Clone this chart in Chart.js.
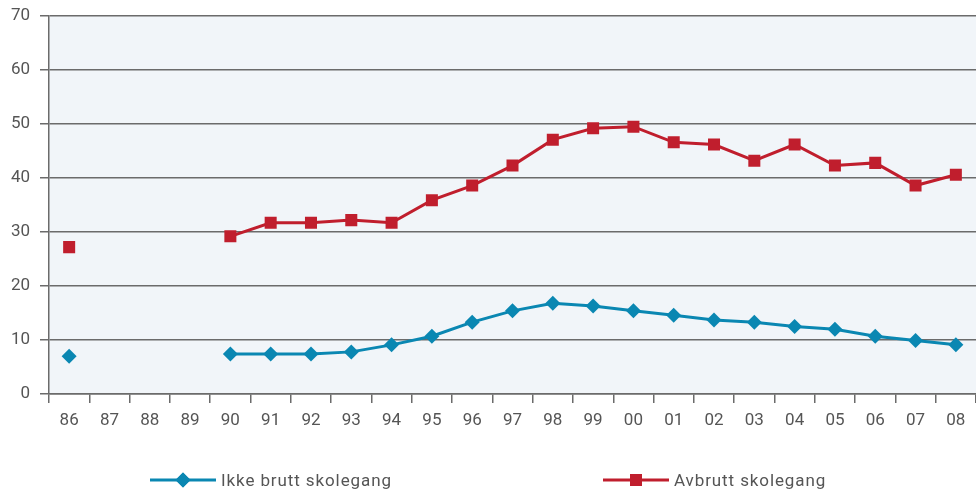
<!DOCTYPE html>
<html>
<head>
<meta charset="utf-8">
<script src="https://cdn.jsdelivr.net/npm/chart.js@4"></script>
<style>
  html, body { margin: 0; padding: 0; background: #ffffff; overflow: hidden; }
  #wrap { position: relative; width: 976px; height: 491px; overflow: hidden; }
  canvas { display: block; }
  .lg { position: absolute; top: 469px; height: 22px; display: flex; align-items: center;
        font-family: Roboto, "DejaVu Sans", sans-serif; font-size: 17px; color: #555; letter-spacing: 0.9px; }
  .lg canvas { margin-right: 5px; }
</style>
</head>
<body>
<div id="wrap">
  <canvas id="c" width="976" height="491"></canvas>
  <div class="lg" style="left:150px;"><canvas id="l1" width="66" height="22"></canvas><span>Ikke brutt skolegang</span></div>
  <div class="lg" style="left:603px;"><canvas id="l2" width="66" height="22"></canvas><span>Avbrutt skolegang</span></div>
</div>
<script>
const categories = ['86','87','88','89','90','91','92','93','94','95','96','97','98','99','00','01','02','03','04','05','06','07','08'];
const ikkeBrutt = [7.0, null, null, null, 7.4, 7.4, 7.4, 7.8, 9.1, 10.7, 13.3, 15.4, 16.8, 16.3, 15.4, 14.6, 13.7, 13.3, 12.5, 12.0, 10.7, 9.9, 9.1];
const avbrutt   = [27.2, null, null, null, 29.2, 31.7, 31.7, 32.2, 31.7, 35.9, 38.6, 42.3, 47.1, 49.2, 49.5, 46.6, 46.2, 43.2, 46.2, 42.3, 42.8, 38.6, 40.6];
const seriesNames = ['Ikke brutt skolegang', 'Avbrutt skolegang'];
const yTicks = [0, 10, 20, 30, 40, 50, 60, 70];

const BLUE = '#0a87b2';
const RED = '#c01e2d';
const GRID = '#6b6b6b';
const TXT = '#555555';
const FONT = 'Roboto, "DejaVu Sans", sans-serif';

const bgPlugin = {
  id: 'plotBg',
  beforeDraw(chart) {
    const a = chart.chartArea, ctx = chart.ctx;
    ctx.save();
    ctx.fillStyle = '#f1f5f9';
    ctx.fillRect(a.left, a.top, a.right - a.left, a.bottom - a.top);
    ctx.restore();
  }
};

new Chart(document.getElementById('c'), {
  type: 'line',
  data: {
    labels: categories,
    datasets: [
      { label: seriesNames[0], data: ikkeBrutt, borderColor: BLUE, backgroundColor: BLUE,
        borderWidth: 3, pointStyle: 'rectRot', pointRadius: 7.5, pointHoverRadius: 7.5,
        pointBorderWidth: 0, spanGaps: false, tension: 0 },
      { label: seriesNames[1], data: avbrutt, borderColor: RED, backgroundColor: RED,
        borderWidth: 3, pointStyle: 'rect', pointRadius: 8.5, pointHoverRadius: 8.5,
        pointBorderWidth: 0, spanGaps: false, tension: 0 }
    ]
  },
  options: {
    responsive: false,
    animation: false,
    layout: { autoPadding: false, padding: { top: 16, right: 0, bottom: 47, left: 0 } },
    plugins: { legend: { display: false }, tooltip: { enabled: false } },
    scales: {
      x: {
        offset: true,
        grid: { offset: true, drawOnChartArea: false, color: GRID, tickLength: 9, lineWidth: 1.5 },
        border: { display: true, color: GRID, width: 1.5 },
        ticks: { color: TXT, font: { family: FONT, size: 17 }, padding: 8, maxRotation: 0, autoSkip: false },
        afterFit(s) { s.height = 50; s.paddingLeft = 0; s.paddingRight = 0; }
      },
      y: {
        min: 0, max: 70,
        afterBuildTicks(s) { s.ticks = yTicks.map(v => ({ value: v })); },
        grid: { color: GRID, tickLength: 9, lineWidth: 1.5 },
        border: { display: true, color: GRID, width: 1.5 },
        ticks: { color: TXT, font: { family: FONT, size: 17 }, padding: 10 },
        afterFit(s) { s.width = 49; s.paddingTop = 0; s.paddingBottom = 0; }
      }
    }
  },
  plugins: [bgPlugin]
});

function legendIcon(id, color, style, r) {
  const cv = document.getElementById(id), ctx = cv.getContext('2d');
  ctx.strokeStyle = color; ctx.lineWidth = 3;
  ctx.beginPath(); ctx.moveTo(0, 11); ctx.lineTo(66, 11); ctx.stroke();
  ctx.fillStyle = color;
  Chart.helpers.drawPoint(ctx, { pointStyle: style, radius: r, borderWidth: 0 }, 33, 11);
  ctx.fill();
}
legendIcon('l1', BLUE, 'rectRot', 7.5);
legendIcon('l2', RED, 'rect', 8.5);
</script>
</body>
</html>
